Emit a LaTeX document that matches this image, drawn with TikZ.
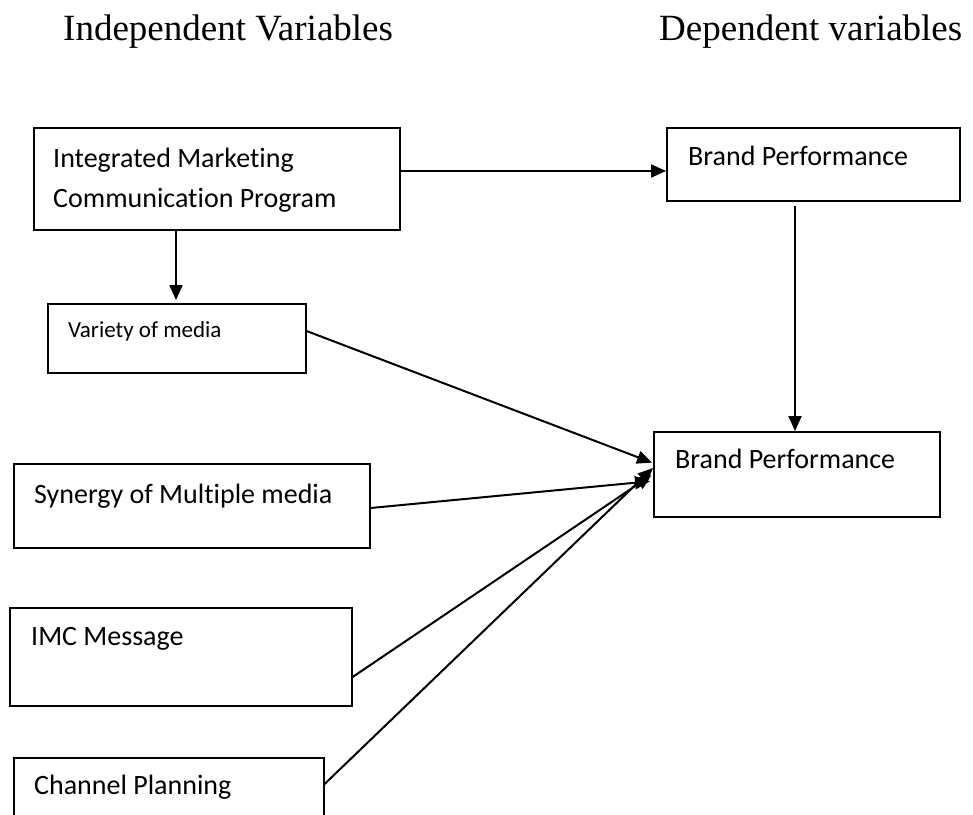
\documentclass[tikz,border=0pt]{standalone}
\usepackage{fontspec}
\setmainfont{Liberation Serif}
\newfontfamily\boxfont[Ligatures=NoCommon]{Carlito}
\usetikzlibrary{arrows.meta}
\begin{document}
\begin{tikzpicture}[x=1pt,y=-1pt,
  box/.style={draw=black,line width=1.6pt,rectangle,inner sep=0pt,anchor=north west},
  boxtext/.style={anchor=base west,inner sep=0pt,font=\boxfont\fontsize{28}{34}\selectfont},
  smalltext/.style={anchor=base west,inner sep=0pt,font=\boxfont\fontsize{23}{28}\selectfont},
  heading/.style={anchor=base west,inner sep=0pt,font=\fontsize{37}{44}\selectfont},
  link/.style={line width=2pt,-{Triangle[length=15pt,width=13pt]}}]
\useasboundingbox (0,0) rectangle (973,814);
\clip (0,0) rectangle (973,814);
\fill[white] (0,0) rectangle (973,814);

% column headings
\node[heading] (hind) at (63,40) {Independent Variables};
\node[heading] (hdep) at (659,40) {Dependent variables};

% boxes
\node[box,minimum width=366pt,minimum height=102pt] (imc) at (33,127) {};
\node[box,minimum width=293pt,minimum height=73pt] (bp1) at (666,127) {};
\node[box,minimum width=258pt,minimum height=69pt] (var) at (47,303) {};
\node[box,minimum width=286pt,minimum height=85pt] (bp2) at (653,431) {};
\node[box,minimum width=356pt,minimum height=84pt] (syn) at (13,463) {};
\node[box,minimum width=342pt,minimum height=98pt] (msg) at (9,607) {};
\node[box,minimum width=310pt,minimum height=90pt] (chan) at (13,757) {};

% box texts
\node[boxtext] (timc1) at (53,167) {Integrated Marketing};
\node[boxtext] (timc2) at (53,207) {Communication Program};
\node[boxtext] (tbp1) at (688,165) {Brand Performance};
\node[smalltext] (tvar) at (68,337) {Variety of media};
\node[boxtext] (tbp2) at (675,468) {Brand Performance};
\node[boxtext] (tsyn) at (34,503) {Synergy of Multiple media};
\node[boxtext] (tmsg) at (31,645) {IMC Message};
\node[boxtext] (tchan) at (34,794) {Channel Planning};

% connectors
\draw[link] ([yshift=-44pt]imc.north east) -- ([yshift=-44pt]bp1.north west);
\draw[link,shorten >=3pt] ([xshift=143pt]imc.south west) -- ([xshift=129pt]var.north west);
\draw[link,shorten <=4pt] ([xshift=129pt]bp1.south west) -- ([xshift=142pt]bp2.north west);
\draw[link,shorten >=1pt] ([yshift=-28pt]var.north east) -- ([yshift=-32pt]bp2.north west);
\draw[link,shorten >=3pt] ([yshift=-45pt]syn.north east) -- ([yshift=-50pt]bp2.north west);
\draw[link,shorten >=2pt] ([yshift=-70pt]msg.north east) -- ([yshift=-43pt]bp2.north west);
\draw[link] ([yshift=-27pt]chan.north east) -- ([yshift=-37pt]bp2.north west);
\end{tikzpicture}
\end{document}
